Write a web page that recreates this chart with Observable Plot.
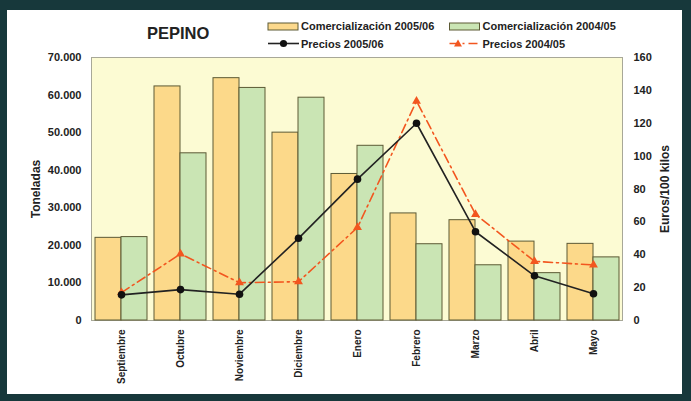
<!DOCTYPE html>
<html><head><meta charset="utf-8">
<script src="https://cdn.jsdelivr.net/npm/d3@7"></script>
<script src="https://cdn.jsdelivr.net/npm/@observablehq/plot@0.6"></script>
<style>
body{margin:0;background:#17383b;}
#wrap{position:relative;width:691px;height:401px;background:#17383b;overflow:hidden;font-family:"Liberation Sans",Arial,sans-serif;}
#panel{position:absolute;left:7px;top:10px;width:675px;height:384px;background:#fff;}
#chart{position:absolute;left:0;top:0;}
#legend{position:absolute;left:0;top:0;}
#legend text{font-family:"Liberation Sans",Arial,sans-serif;font-weight:bold;fill:#222;}
</style></head><body>
<div id="wrap">
  <div id="panel"></div>
  <div id="chart"></div>
  <svg id="legend" width="691" height="56">
    <text x="147" y="38.5" font-size="16.5">PEPINO</text>
    <rect x="268" y="23" width="30" height="7" fill="#fcd98c" stroke="#5c5a35" stroke-width="1"/>
    <text x="301" y="30" font-size="11">Comercialización 2005/06</text>
    <rect x="449.5" y="23" width="30" height="7" fill="#cae5b4" stroke="#5c5a35" stroke-width="1"/>
    <text x="482.5" y="30" font-size="11">Comercialización 2004/05</text>
    <line x1="268" x2="299" y1="43.5" y2="43.5" stroke="#222" stroke-width="1.6"/>
    <circle cx="283.5" cy="43.5" r="3.6" fill="#111"/>
    <text x="301" y="47.7" font-size="11">Precios 2005/06</text>
    <line x1="449.5" x2="480" y1="43.5" y2="43.5" stroke="#f2561f" stroke-width="1.6" stroke-dasharray="9,4,2,4"/>
    <path d="M458,39.5 L462,46.5 L454,46.5 Z" fill="#f2561f"/>
    <text x="482.5" y="47.7" font-size="11">Precios 2004/05</text>
  </svg>
</div>
<script>
const months = ["Septiembre","Octubre","Noviembre","Diciembre","Enero","Febrero","Marzo","Abril","Mayo"];
const comercializacion0506 = [22000, 62300, 64500, 50000, 39000, 28500, 26700, 21000, 20400];
const comercializacion0405 = [22200, 44500, 61900, 59300, 46500, 20300, 14700, 12600, 16800];
const precios0506 = [15.6, 18.8, 16, 50, 86, 120, 54, 27.2, 16.3];
const precios0405 = [17, 40.5, 23, 23.6, 56.6, 133.5, 64.6, 36, 33.8];
const toneladasTicks = [0, 10000, 20000, 30000, 40000, 50000, 60000, 70000];
const eurosTicks = [0, 20, 40, 60, 80, 100, 120, 140, 160];

const K = toneladasTicks[toneladasTicks.length-1] / eurosTicks[eurosTicks.length-1];
const fmt = d3.formatLocale({decimal: ",", thousands: ".", grouping: [3], currency: ["", ""]}).format(",");
const rows = months.map((m, i) => ({month: m, c1: comercializacion0506[i], c2: comercializacion0405[i], p1: precios0506[i], p2: precios0405[i]}));

const chart = Plot.plot({
  width: 691, height: 401,
  marginLeft: 91, marginRight: 69, marginTop: 57, marginBottom: 81,
  style: {background: "none", fontFamily: "Liberation Sans, Arial, sans-serif", fontWeight: "bold", fontSize: "11px", color: "#222"},
  x: {type: "band", domain: months, paddingInner: 0.125, paddingOuter: 0.04},
  y: {domain: [0, 70000]},
  marks: [
    Plot.frame({fill: "#fcfbd3", stroke: "#a8a898"}),
    Plot.barY(rows, {x: "month", y: "c1", fill: "#fcd98a", stroke: "#5c5a35", strokeWidth: 1, insetRight: 26}),
    Plot.barY(rows, {x: "month", y: "c2", fill: "#cae5b4", stroke: "#5c5a35", strokeWidth: 1, insetLeft: 26}),
    Plot.lineY(rows, {x: "month", y: d => d.p2 * K, stroke: "#f2561f", strokeWidth: 1.6, strokeDasharray: "9,4,2,4"}),
    Plot.dot(rows, {x: "month", y: d => d.p2 * K, symbol: "triangle", r: 3.3, fill: "#f2561f"}),
    Plot.lineY(rows, {x: "month", y: d => d.p1 * K, stroke: "#222", strokeWidth: 1.6}),
    Plot.dot(rows, {x: "month", y: d => d.p1 * K, r: 3.8, fill: "#111"}),
    Plot.axisX({tickSize: 0, tickPadding: 9, tickRotate: -90, fontSize: 10, label: null}),
    Plot.axisY({ticks: toneladasTicks, tickFormat: fmt, tickSize: 0, tickPadding: 10, label: null}),
    Plot.axisY({ticks: [], label: "Toneladas", labelArrow: "none", labelAnchor: "center", labelOffset: 60, fontSize: 12}),
    Plot.axisY({anchor: "right", ticks: eurosTicks.map(v => v * K), tickFormat: d => Math.round(d / K), tickSize: 0, tickPadding: 11, label: null}),
    Plot.axisY({anchor: "right", ticks: [], label: "Euros/100 kilos", labelArrow: "none", labelAnchor: "center", labelOffset: 46, fontSize: 12})
  ]
});
document.getElementById("chart").appendChild(chart);
</script>
</body></html>
